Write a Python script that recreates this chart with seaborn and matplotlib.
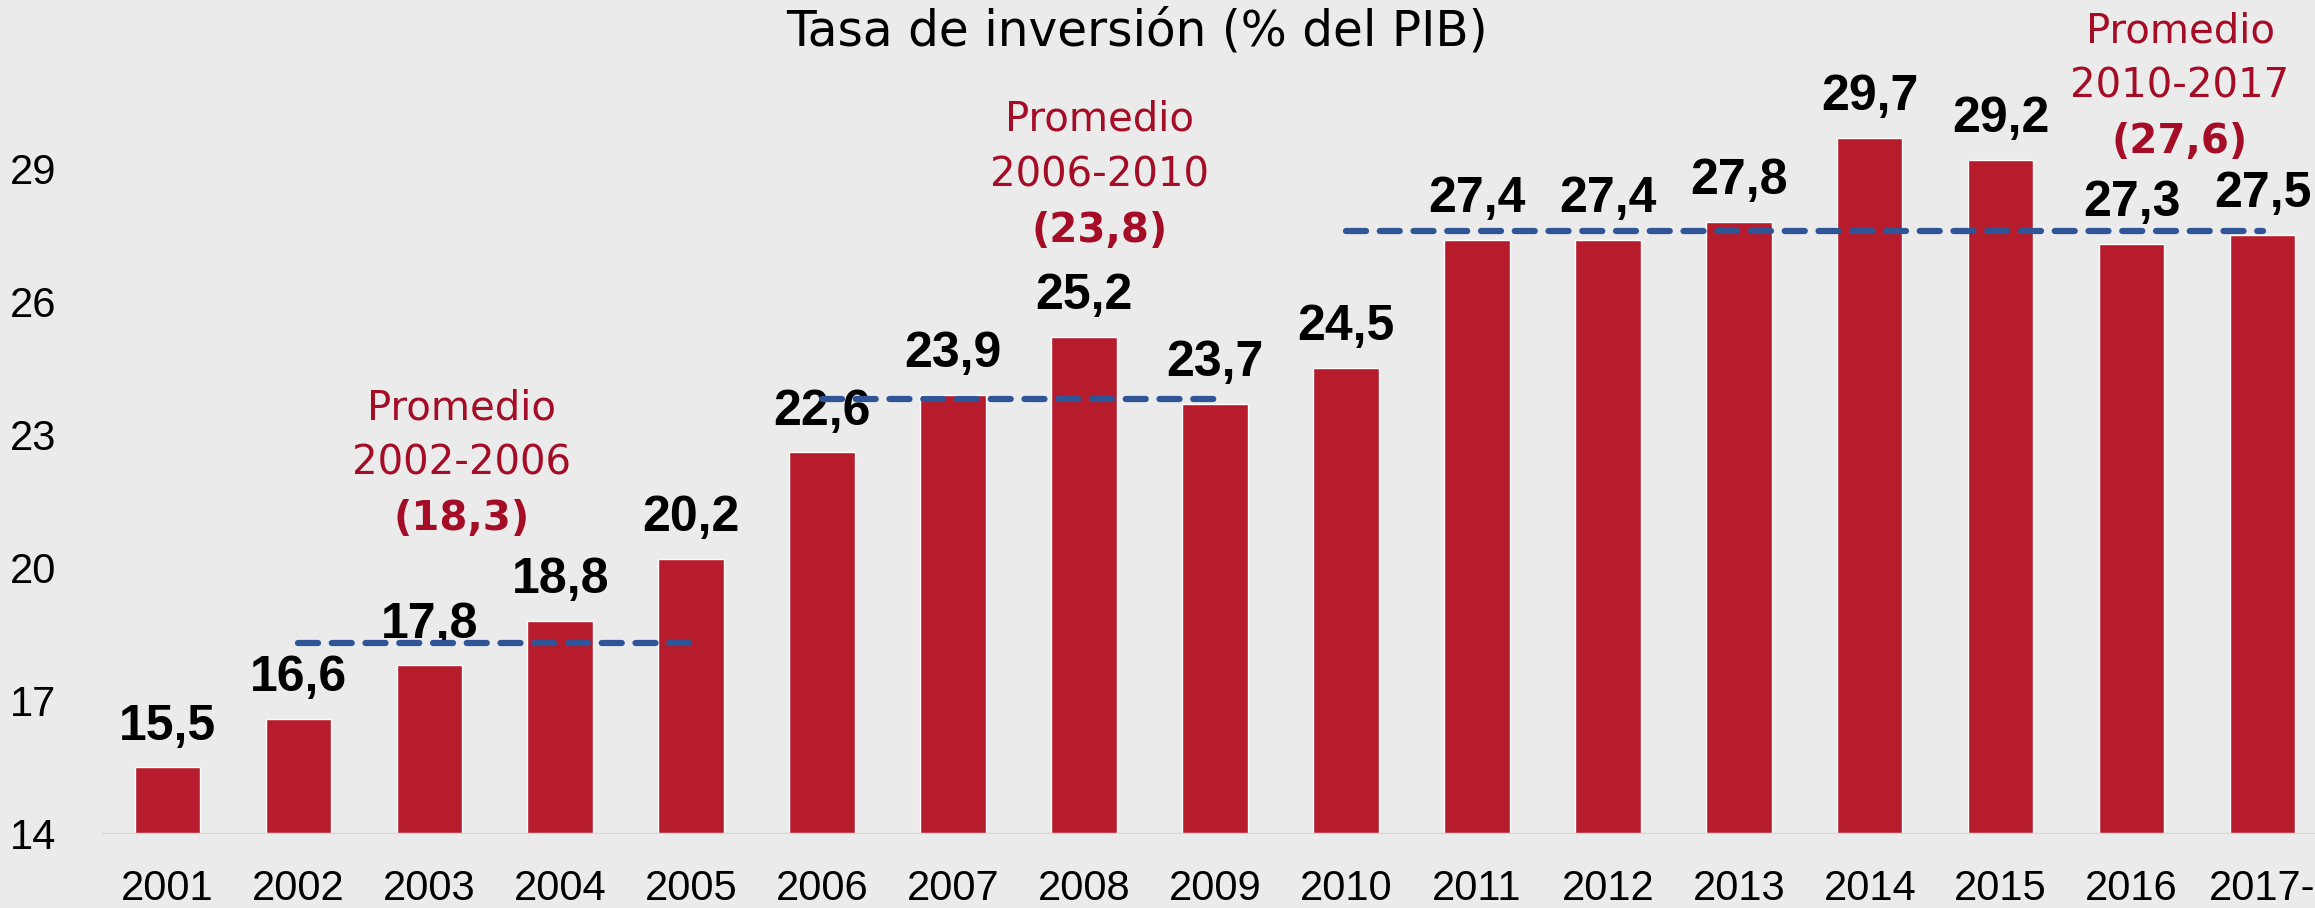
import numpy as np
import pandas as pd
import matplotlib
matplotlib.use("Agg")
import matplotlib.pyplot as plt
import seaborn as sns

years = ["2001", "2002", "2003", "2004", "2005", "2006", "2007", "2008", "2009",
         "2010", "2011", "2012", "2013", "2014", "2015", "2016", "2017-"]
tasa = [15.5, 16.6, 17.8, 18.8, 20.2, 22.6, 23.9, 25.2, 23.7,
        24.5, 27.4, 27.4, 27.8, 29.7, 29.2, 27.3, 27.5]
yticks = [14, 17, 20, 23, 26, 29]

# promedios: (inicio, fin, valor, texto periodo)
prom_start = [1, 5, 9]
prom_end = [4, 8, 16]
prom_val = [18.3, 23.8, 27.6]
prom_label = ["2002-2006", "2006-2010", "2010-2017"]
prom_text_x = [2.25, 7.12, 15.37]
prom_text_y = [23.6, 30.1, 32.1]

bar_color = "#B71C2C"
note_color = "#A50D26"
dash_color = "#2F5597"
bg = "#EBEBEB"

df = pd.DataFrame({"year": years, "tasa": tasa})

sns.set_style("white")
plt.rcParams["font.family"] = ["DejaVu Sans"]

fig = plt.figure(figsize=(23.15, 9.08), dpi=100, facecolor=bg)
ax = fig.add_axes([0.044, 0.0815, 0.956, 0.9185])
ax.set_facecolor(bg)

sns.barplot(data=df, x="year", y="tasa", color=bar_color, width=0.5,
            saturation=1, ax=ax)

ax.set_ylim(14, 32.8)
ax.set_xlim(-0.5, 16.4)
ax.set_yticks(yticks)
ax.set_xlabel("")
ax.set_ylabel("")
for s in ax.spines.values():
    s.set_visible(False)
ax.axhline(14, color="#D6D6D6", lw=2.5, zorder=1)
ax.tick_params(axis="both", length=0, labelcolor="black")
ax.tick_params(axis="y", pad=33)
ax.tick_params(axis="x", pad=25)
for lab in ax.get_xticklabels() + ax.get_yticklabels():
    lab.set_fontfamily(["Liberation Sans", "DejaVu Sans"])
    lab.set_fontsize(30)

# etiquetas de valores
for i, v in enumerate(tasa):
    ax.text(i, v + 0.4, f"{v:.1f}".replace(".", ","), ha="center", va="bottom",
            fontsize=36, fontweight="bold", color="black",
            family=["Liberation Sans", "DejaVu Sans"])

# lineas de promedio y textos
for x0, x1, val, per, tx, ty in zip(prom_start, prom_end, prom_val, prom_label,
                                     prom_text_x, prom_text_y):
    ax.plot([x0, x1], [val, val], color=dash_color, lw=4.5,
            linestyle=(0, (3.2, 2.2)), dash_capstyle="round", zorder=3)
    ax.text(tx, ty, "Promedio", ha="center", va="center", fontsize=29,
            color=note_color)
    ax.text(tx, ty - 1.25, per, ha="center", va="center", fontsize=29,
            color=note_color)
    ax.text(tx, ty - 2.5, "(" + f"{val:.1f}".replace(".", ",") + ")",
            ha="center", va="center", fontsize=29, fontweight="bold",
            color=note_color)

fig.text(0.491, 0.965, "Tasa de inversión (% del PIB)", ha="center",
         va="center", fontsize=35, color="black")

fig.savefig("out.png", dpi=100, facecolor=bg)
